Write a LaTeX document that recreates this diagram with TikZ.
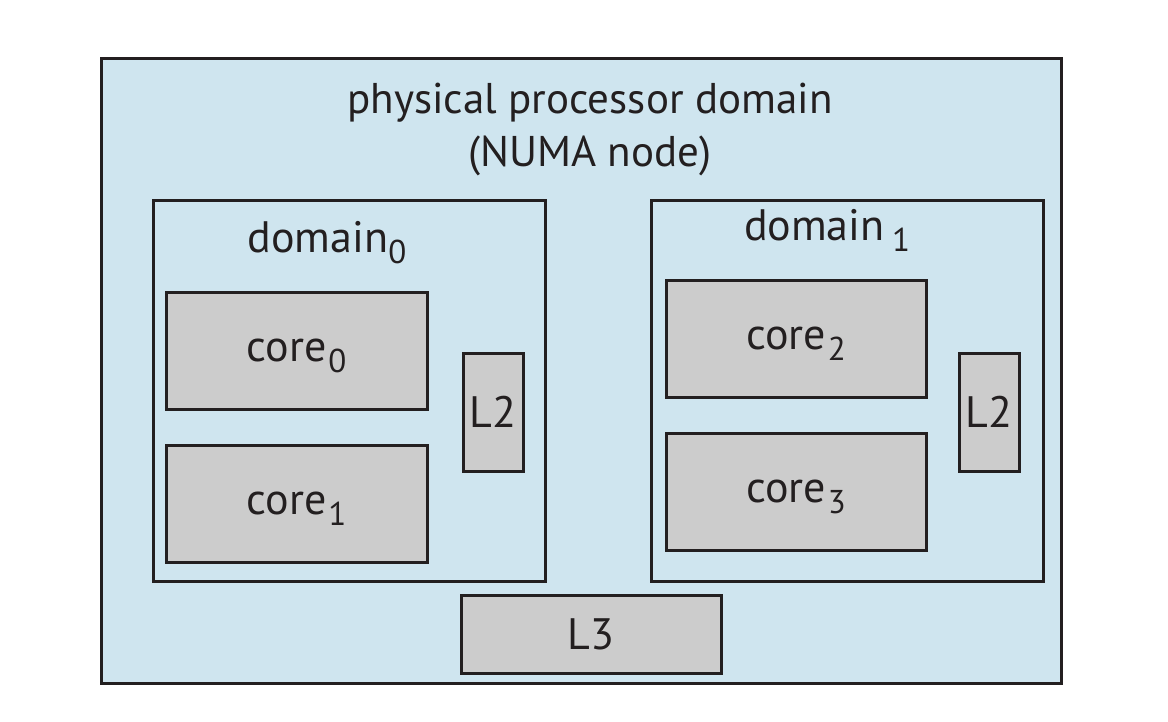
\documentclass[tikz,border=0pt]{standalone}
\usepackage{fontspec}
\setmainfont{PT Sans}
\definecolor{numablue}{HTML}{CFE5EF}
\definecolor{coregray}{HTML}{CCCCCC}
\definecolor{inkline}{HTML}{231F20}
\newcommand\idx[1]{\smash{\raisebox{-11pt}{\fontsize{33}{33}\selectfont #1}}}
\tikzset{
	domainbox/.style={draw=inkline, line width=3pt, fill=numablue, inner sep=0pt},
	unitbox/.style={draw=inkline, line width=3pt, fill=coregray, inner sep=0pt, text=inkline}
}
\begin{document}
\begin{tikzpicture}[x=1pt, y=-1pt, font=\fontsize{44}{53}\selectfont, line join=miter]
	\fill[white] (0,0) rectangle (1168,721);
	\useasboundingbox (0,0) rectangle (1168,721);
	% physical processor domain
	\node[domainbox, minimum width=960pt, minimum height=625pt] (numa) at (581,370.5) {};
	\node[anchor=base, align=center, text=inkline, font=\fontsize{43}{53}\selectfont] (title) at (590,166) {physical processor domain\\(NUMA node)};
	% domains
	\node[domainbox, minimum width=392pt, minimum height=381pt] (dom0) at (349,390.5) {};
	\node[domainbox, minimum width=392pt, minimum height=381pt] (dom1) at (847,390.5) {};
	\node[anchor=base, text=inkline] (dom0lab) at (327,252) {domain\idx{0}};
	\node[anchor=base, text=inkline] (dom1lab) at (827,240) {domain\,\idx{1}};
	% cores
	\node[unitbox, minimum width=261pt, minimum height=117pt] (core0) at (296.5,350.5) {core\kern2pt\idx{0}};
	\node[unitbox, minimum width=261pt, minimum height=117pt] (core1) at (296.5,503.5) {core\kern2pt\idx{1}};
	\node[unitbox, minimum width=260pt, minimum height=117pt] (core2) at (796,338.5) {core\kern2pt\idx{2}};
	\node[unitbox, minimum width=260pt, minimum height=117pt] (core3) at (796,491.5) {core\kern2pt\idx{3}};
	% caches
	\node[unitbox, minimum width=60pt, minimum height=118pt] (l2a) at (493,412) {L2};
	\node[unitbox, minimum width=60pt, minimum height=118pt] (l2b) at (989,412) {L2};
	\node[unitbox, minimum width=260pt, minimum height=78pt] (l3) at (591,634) {L3};
\end{tikzpicture}
\end{document}
